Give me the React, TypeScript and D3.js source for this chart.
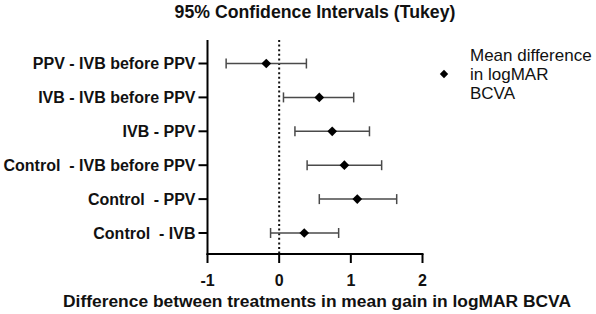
import React from "react";
import * as d3 from "d3";

const categories = [
  "PPV - IVB before PPV",
  "IVB - IVB before PPV",
  "IVB - PPV",
  "Control  - IVB before PPV",
  "Control  - PPV",
  "Control  - IVB",
];
const means = [-0.18, 0.56, 0.74, 0.91, 1.09, 0.35];
const lowers = [-0.74, 0.06, 0.22, 0.39, 0.56, -0.12];
const uppers = [0.38, 1.04, 1.26, 1.43, 1.64, 0.83];
const xTicks = [-1, 0, 1, 2];
const legendLines = ["Mean difference", "in logMAR", "BCVA"];

export default function App() {
  const W = 596;
  const H = 314;
  const left = 207.5;
  const right = 422.5;
  const top = 40;
  const bottom = 254;
  const x = d3.scaleLinear().domain([-1, 2]).range([left, right]);
  const y = d3.scalePoint<string>().domain(categories).range([63.5, 233]);
  const diamond = d3.symbol().type(d3.symbolDiamond2).size(60)() as string;
  const legendDiamond = d3.symbol().type(d3.symbolDiamond2).size(45)() as string;
  const font = "'Liberation Sans', Arial, sans-serif";
  const cx = (left + right) / 2;
  const barColor = "#4a4a4a";

  return (
    <svg
      width={W}
      height={H}
      style={{ position: "absolute", left: 0, top: 0, background: "#fff" }}
      fontFamily={font}
    >
      <rect width={W} height={H} fill="#fff" />
      <text x={cx} y={18} textAnchor="middle" fontSize={17.7} fontWeight="bold" fill="#111">
        95% Confidence Intervals (Tukey)
      </text>

      {/* zero reference line */}
      <line
        x1={x(0)}
        x2={x(0)}
        y1={top}
        y2={bottom}
        stroke="#111"
        strokeWidth={2}
        strokeDasharray="2,2.6"
      />

      {/* error bars */}
      {categories.map((c, i) => {
        const yy = y(c)!;
        return (
          <g key={c}>
            <line x1={x(lowers[i])} x2={x(uppers[i])} y1={yy} y2={yy} stroke={barColor} strokeWidth={1.5} />
            <line x1={x(lowers[i])} x2={x(lowers[i])} y1={yy - 5} y2={yy + 5} stroke={barColor} strokeWidth={1.5} />
            <line x1={x(uppers[i])} x2={x(uppers[i])} y1={yy - 5} y2={yy + 5} stroke={barColor} strokeWidth={1.5} />
            <path d={diamond} transform={`translate(${x(means[i])},${yy})`} fill="#000" />
          </g>
        );
      })}

      {/* y axis */}
      <line x1={left} x2={left} y1={top} y2={bottom + 1} stroke="#000" strokeWidth={2} />
      {categories.map((c) => (
        <g key={"t" + c}>
          <line x1={left - 9} x2={left} y1={y(c)!} y2={y(c)!} stroke="#000" strokeWidth={2} />
          <text
            x={left - 12}
            y={y(c)!}
            dy="0.36em"
            textAnchor="end"
            fontSize={16}
            fontWeight="bold"
            fill="#111"
          >
            {c.replace(/ {2}/g, "\u00a0 ")}
          </text>
        </g>
      ))}

      {/* x axis */}
      <line x1={left - 1} x2={right + 1} y1={bottom} y2={bottom} stroke="#000" strokeWidth={2} />
      {xTicks.map((t) => (
        <g key={"x" + t}>
          <line x1={x(t)} x2={x(t)} y1={bottom} y2={bottom + 9} stroke="#000" strokeWidth={2} />
          <text x={x(t)} y={285.5} textAnchor="middle" fontSize={16} fontWeight="bold" fill="#111">
            {t}
          </text>
        </g>
      ))}
      <text x={cx + 2} y={307} textAnchor="middle" fontSize={17.4} fontWeight="bold" fill="#111">
        Difference between treatments in mean gain in logMAR BCVA
      </text>

      {/* legend */}
      <path d={legendDiamond} transform="translate(444,74)" fill="#000" />
      {legendLines.map((l, i) => (
        <text key={l} x={470} y={55 + i * 19} dy="0.36em" fontSize={17} fill="#111">
          {l}
        </text>
      ))}
    </svg>
  );
}
